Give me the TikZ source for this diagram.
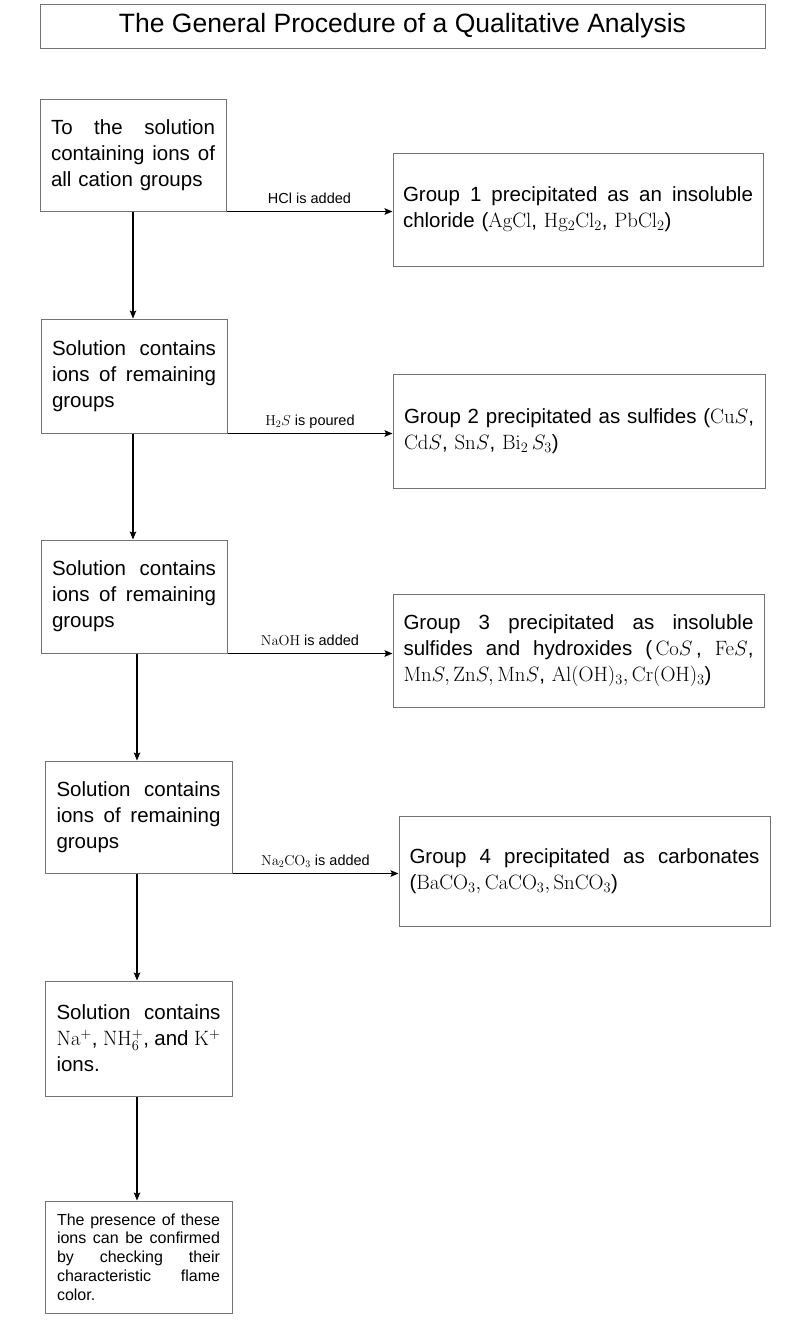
\documentclass[tikz,border=0pt]{standalone}
\usepackage[no-math]{fontspec}
\setmainfont{Liberation Sans}
\usetikzlibrary{arrows.meta,calc}
\definecolor{boxgray}{RGB}{115,115,115}
% one justified line: words separated by \g
\newcommand{\jl}[2][164pt]{\makebox[#1][l]{#2}}
\newcommand{\g}{\hspace{0.25em plus 1fill}}
\begin{document}
\begin{tikzpicture}[x=1pt,y=-1pt,
  box/.style={draw=boxgray, line width=1pt, inner xsep=0pt, inner ysep=0pt, align=left},
  lbox/.style={box, text width=164pt, font=\fontsize{20.5}{26}\selectfont},
  rbox/.style={box, text width=350pt, font=\fontsize{20.5}{26}\selectfont},
  sbox/.style={box, text width=163pt, font=\fontsize{16}{18.8}\selectfont},
  arr/.style={draw=black, line width=1.4pt, -{Stealth[length=8pt,width=6.5pt,inset=1.5pt]}},
  lbl/.style={midway, anchor=base, yshift=8pt, inner sep=0pt, font=\fontsize{14.5}{17}\selectfont}
]
\fill[white] (0,0) rectangle (789,1334);
\useasboundingbox (0,0) rectangle (789,1334);

% title
\node[box, minimum width=725pt, minimum height=44pt, font=\fontsize{26.5}{30}\selectfont] (title) at (402.5,26)
  {The General Procedure of a Qualitative Analysis};

% left column
\node[lbox, minimum width=186pt, minimum height=112pt] (b1) at (133,155)
  {\jl{To\g the\g solution}\\\jl{containing\g ions\g of}\\all cation groups};
\node[lbox, minimum width=186pt, minimum height=114pt] (b2) at (134,376)
  {\jl{Solution\g contains}\\\jl{ions\g of\g remaining}\\groups};
\node[lbox, minimum width=186pt, minimum height=113pt] (b3) at (134,596.5)
  {\jl{Solution\g contains}\\\jl{ions\g of\g remaining}\\groups};
\node[lbox, minimum width=187pt, minimum height=112pt] (b4) at (138.5,817)
  {\jl{Solution\g contains}\\\jl{ions\g of\g remaining}\\groups};
\node[lbox, minimum width=187pt, minimum height=115pt] (b5) at (138.5,1038.5)
  {\jl{Solution\g contains}\\\jl{$\mathrm{Na^+}$,\g$\mathrm{NH_6^+}$,\g and\g$\mathrm{K^+}$}\\ions.};
\node[sbox, minimum width=187pt, minimum height=112pt] (b6) at (138.5,1257)
  {\jl[163pt]{The\g presence\g of\g these}\\\jl[163pt]{ions\g can\g be\g confirmed}\\\jl[163pt]{by\g checking\g their}\\\jl[163pt]{characteristic\g flame}\\color.};

% right column
\node[rbox, minimum width=370pt, minimum height=113pt] (r1) at (578,209.5)
  {\jl[350pt]{Group\g 1\g precipitated\g as\g an\g insoluble}\\chloride ($\mathrm{AgCl}$, $\mathrm{Hg_2Cl_2}$, $\mathrm{PbCl_2}$)};
\node[rbox, minimum width=372pt, minimum height=114pt] (r2) at (579,431)
  {\jl[350pt]{Group\g 2\g precipitated\g as\g sulfides\g($\mathrm{Cu}S$,}\\$\mathrm{Cd}S$, $\mathrm{Sn}S$, $\mathrm{Bi_2}\,S_3$)};
\node[rbox, minimum width=371pt, minimum height=113pt] (r3) at (578.5,650.5)
  {\jl[350pt]{Group\g 3\g precipitated\g as\g insoluble}\\\jl[350pt]{sulfides\g and\g hydroxides\g(\,$\mathrm{Co}S$\,,\g$\mathrm{Fe}S$,}\\$\mathrm{Mn}S, \mathrm{Zn}S, \mathrm{Mn}S$, $\mathrm{Al(OH)_3}, \mathrm{Cr(OH)_3}$)};
\node[rbox, minimum width=371pt, minimum height=110pt] (r4) at (584.5,871)
  {\jl[350pt]{Group\g 4\g precipitated\g as\g carbonates}\\($\mathrm{BaCO_3}, \mathrm{CaCO_3}, \mathrm{SnCO_3}$)};

% horizontal arrows
\draw[arr] (b1.south east) -- (b1.south east -| r1.west) node[lbl]{HCl is added};
\draw[arr] (b2.south east) -- (b2.south east -| r2.west) node[lbl]{$\mathrm{H_2}S$ is poured};
\draw[arr] (b3.south east) -- (b3.south east -| r3.west) node[lbl]{$\mathrm{NaOH}$ is added};
\draw[arr] (b4.south east) -- (b4.south east -| r4.west) node[lbl]{$\mathrm{Na_2CO_3}$ is added};

% vertical arrows
\draw[arr] (b1.south) -- (b1.south |- b2.north);
\draw[arr] ([xshift=-1pt]b2.south) -- ([xshift=-1pt]b2.south |- b3.north);
\draw[arr] ([xshift=3pt]b3.south) -- ([xshift=3pt]b3.south |- b4.north);
\draw[arr] ([xshift=-1.5pt]b4.south) -- ([xshift=-1.5pt]b4.south |- b5.north);
\draw[arr] ([xshift=-1.5pt]b5.south) -- ([xshift=-1.5pt]b5.south |- b6.north);
\end{tikzpicture}
\end{document}
